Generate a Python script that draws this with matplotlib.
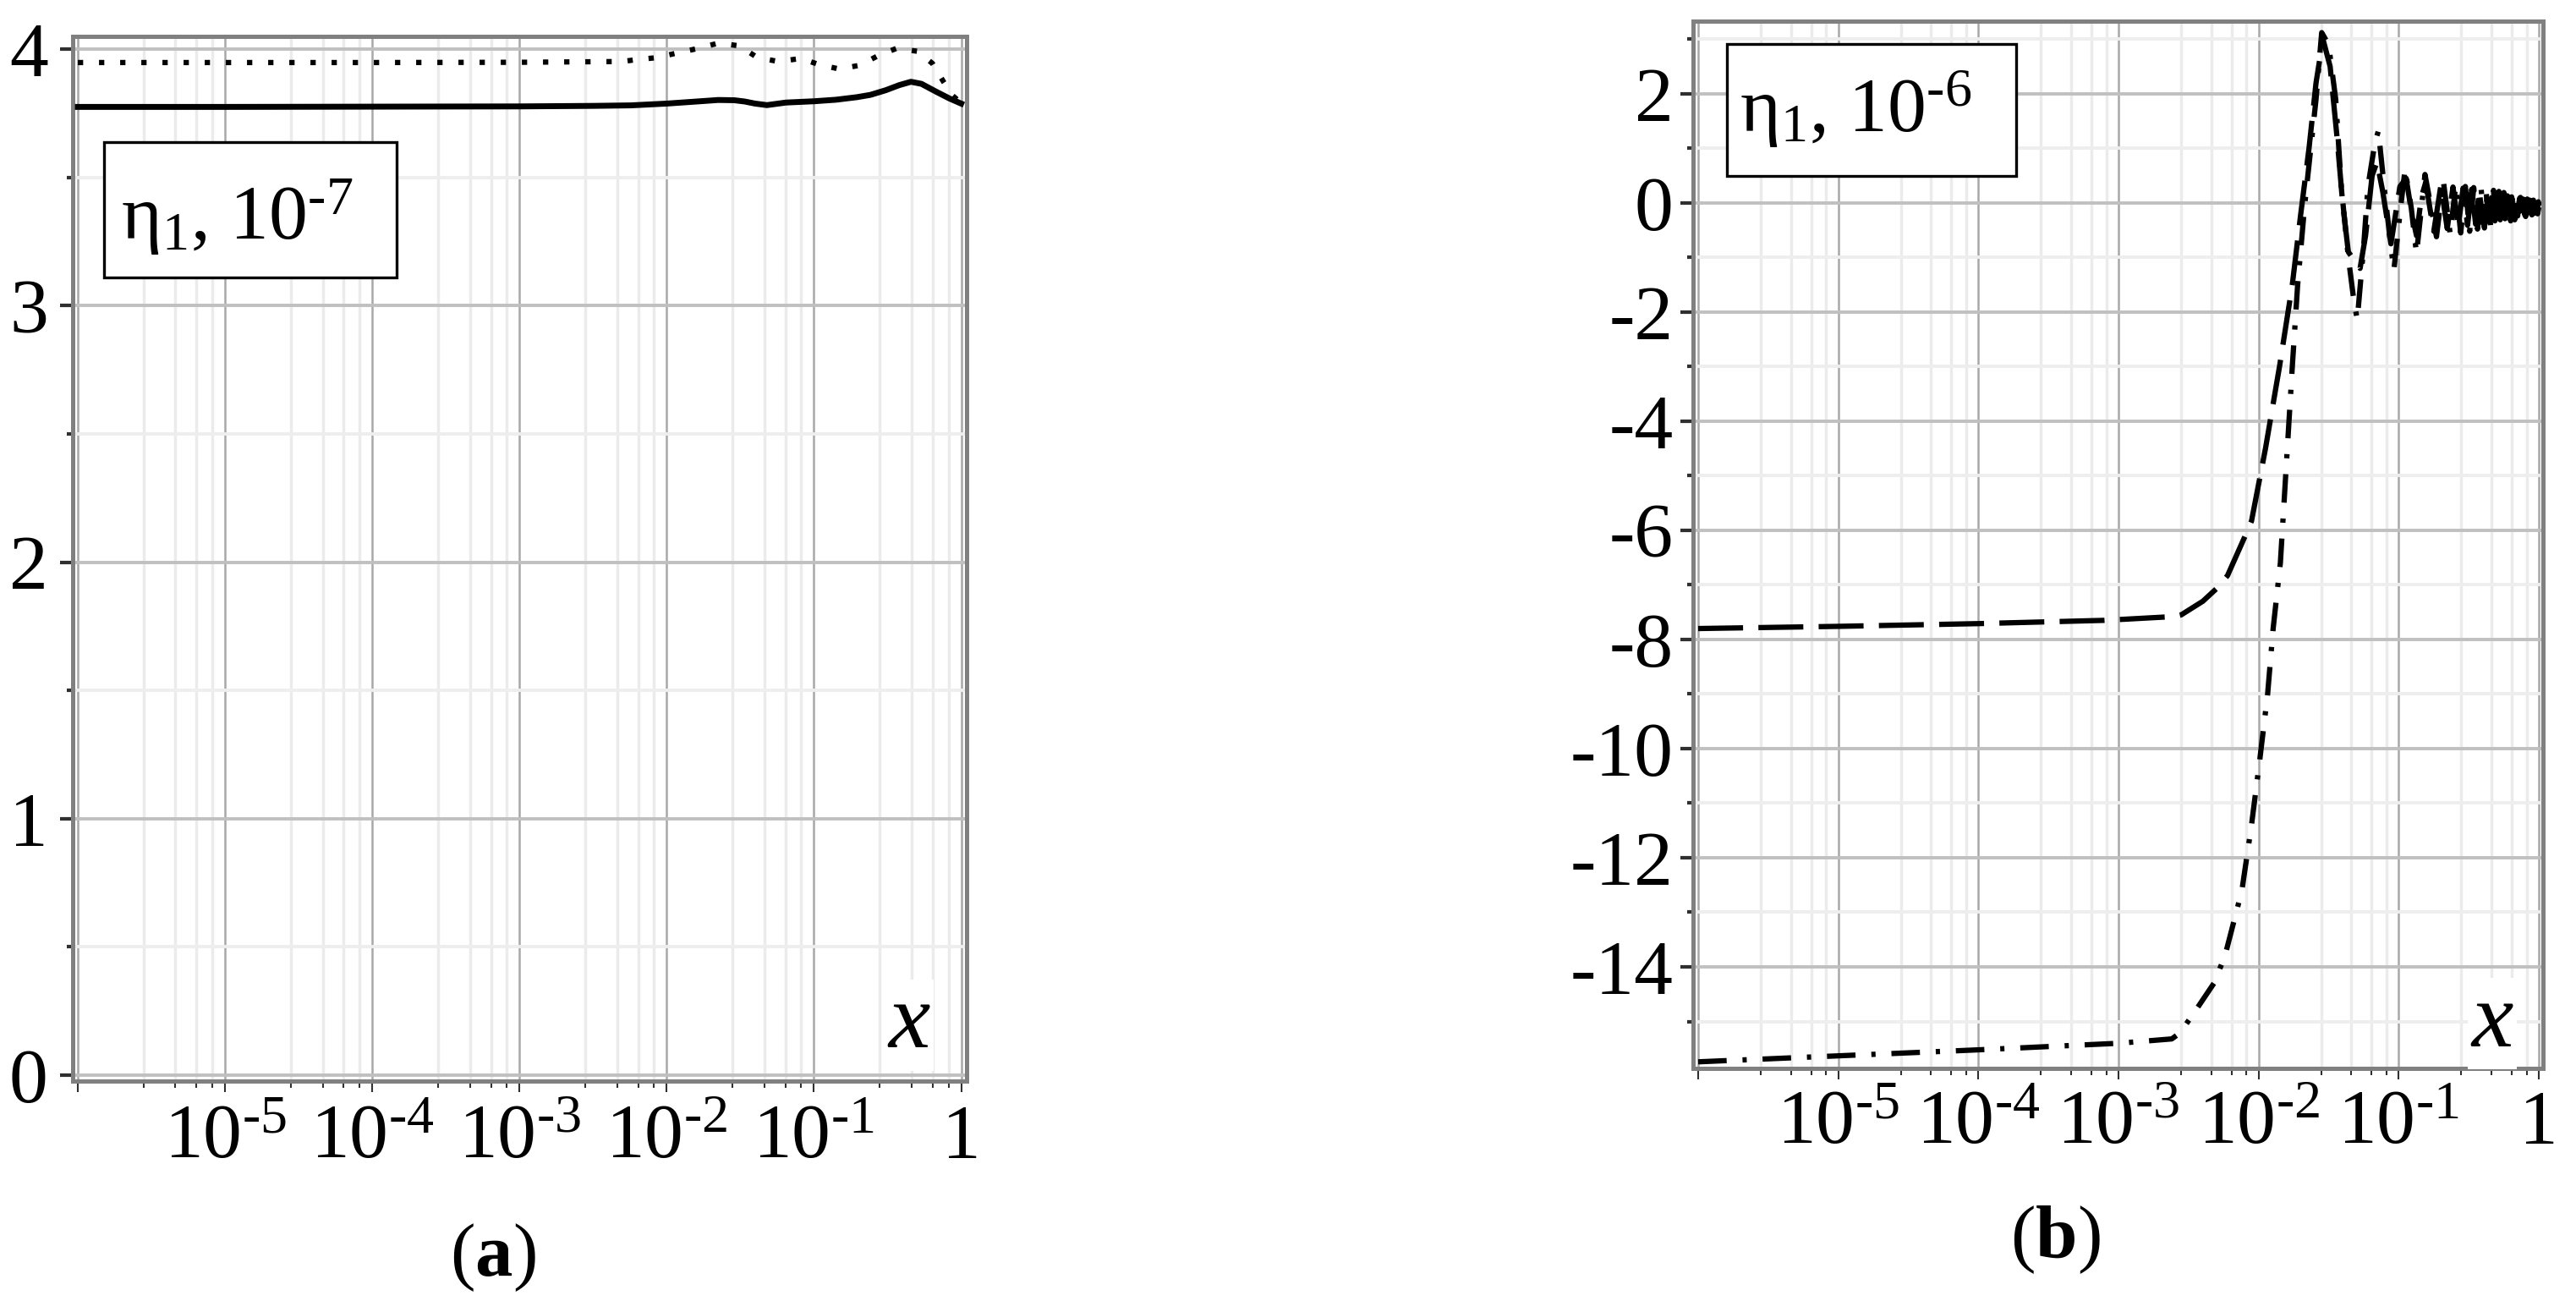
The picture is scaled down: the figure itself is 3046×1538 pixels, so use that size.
import matplotlib
matplotlib.use('Agg')
import matplotlib.pyplot as plt
from matplotlib.patches import Rectangle
from matplotlib.ticker import LogLocator, FixedLocator, NullFormatter

plt.rcParams['font.family'] = ['Liberation Serif', 'DejaVu Serif']
plt.rcParams['mathtext.fontset'] = 'custom'
plt.rcParams['mathtext.rm'] = 'Liberation Serif'
plt.rcParams['mathtext.it'] = 'Liberation Serif:italic'
plt.rcParams['mathtext.bf'] = 'Liberation Serif:bold'
plt.rcParams['axes.unicode_minus'] = False

# ---- panel (a): eta_1, 10^-7 ----
a_x_solid = [1e-6, 1e-5, 1e-4, 1e-3, 3.16e-3, 5.7e-3, 1e-2, 1.42e-2, 2.24e-2, 2.88e-2,
             3.39e-2, 3.98e-2, 4.79e-2, 6.46e-2, 0.1, 0.141, 0.196, 0.242, 0.307, 0.380,
             0.456, 0.537, 0.678, 0.832, 1.0]
a_y_solid = [3.775, 3.775, 3.776, 3.777, 3.779, 3.781, 3.788, 3.794, 3.802, 3.801,
             3.796, 3.788, 3.782, 3.792, 3.797, 3.803, 3.813, 3.822, 3.840, 3.860,
             3.873, 3.865, 3.834, 3.808, 3.788]

a_x_dot = [1e-6, 1e-4, 1e-3, 5.0e-3, 6.15e-3, 8.55e-3, 1.19e-2, 1.63e-2, 2.25e-2, 3.11e-2,
           4.14e-2, 5.75e-2, 8.17e-2, 0.1096, 0.1486, 0.204, 0.2735, 0.363, 0.5035, 0.637,
           0.759, 0.871, 1.0]
a_y_dot = [3.948, 3.948, 3.949, 3.952, 3.959, 3.967, 3.986, 4.003, 4.024, 4.013,
           3.967, 3.952, 3.964, 3.939, 3.923, 3.937, 3.975, 4.003, 3.992, 3.945,
           3.873, 3.820, 3.790]

# ---- panel (b): eta_1, 10^-6 ----
b_x_dash = [1e-6, 1e-5, 1e-4, 7.9e-4, 2.5e-3, 2.8e-3, 4.0e-3, 5.0e-3, 6.0e-3, 7.9e-3,
            8.9e-3, 1.12e-2, 1.41e-2, 1.74e-2, 2.0e-2, 2.29e-2, 2.57e-2, 2.88e-2, 3.24e-2, 3.63e-2,
            3.98e-2, 4.37e-2, 0.053, 0.058, 0.0646, 0.070, 0.077, 0.088, 0.102, 0.113,
            0.124, 0.134, 0.145, 0.156, 0.167, 0.178, 0.200, 0.222, 0.244, 0.266,
            0.288, 0.310, 0.332, 0.354, 0.376, 0.398, 0.420, 0.442, 0.464, 0.486,
            0.508, 0.530, 0.552, 0.574, 0.596, 0.618, 0.640, 0.662, 0.684, 0.706,
            0.728, 0.750, 0.772, 0.794, 0.816, 0.838, 0.860, 0.882, 0.904, 0.926,
            0.948, 0.970, 0.992, 1.0]
b_y_dash = [-7.80, -7.76, -7.71, -7.65, -7.58, -7.55, -7.30, -7.07, -6.83, -6.14,
            -5.83, -4.5, -3.0, -1.5, -0.2, 1.0, 2.2, 3.0, 2.5, 1.2,
            0.0, -0.9, -1.2, -0.6, 0.5, 0.75, 0.2, -0.75, 0.3, 0.45,
            -0.2, -0.6, 0.1, 0.38, -0.1, -0.52, 0.32, -0.47, 0.29, -0.44,
            0.27, -0.41, 0.25, -0.39, 0.23, -0.37, 0.21, -0.35, 0.19, -0.33,
            0.17, -0.31, 0.15, -0.29, 0.13, -0.27, 0.11, -0.26, 0.10, -0.24,
            0.08, -0.23, 0.07, -0.22, 0.06, -0.21, 0.05, -0.20, 0.04, -0.19,
            0.03, -0.18, 0.02, -0.05]

b_x_dd = [1e-6, 1e-5, 1e-4, 1e-3, 2.4e-3, 2.75e-3, 3.55e-3, 4.8e-3, 5.75e-3, 7.6e-3,
          8.9e-3, 1.02e-2, 1.16e-2, 1.27e-2, 1.43e-2, 1.74e-2, 1.9e-2, 2.14e-2, 2.29e-2, 2.57e-2,
          2.82e-2, 3.16e-2, 3.55e-2, 3.89e-2, 4.37e-2, 4.79e-2, 5.06e-2, 5.62e-2, 6.03e-2, 6.76e-2,
          7.16e-2, 7.94e-2, 8.71e-2, 9.23e-2, 0.102, 0.111, 0.123, 0.134, 0.154, 0.186,
          0.208, 0.233, 0.255, 0.277, 0.299, 0.321, 0.343, 0.365, 0.387, 0.409,
          0.431, 0.453, 0.475, 0.497, 0.519, 0.541, 0.563, 0.585, 0.607, 0.629,
          0.651, 0.673, 0.695, 0.717, 0.739, 0.761, 0.783, 0.805, 0.827, 0.849,
          0.871, 0.893, 0.915, 0.937, 0.959, 0.981, 1.0]
b_y_dd = [-15.74, -15.63, -15.52, -15.40, -15.32, -15.21, -14.8, -14.3, -13.8, -12.6,
          -11.4, -10.2, -9.0, -7.8, -6.6, -3.0, -1.5, 0.0, 0.7, 1.9,
          3.12, 2.9, 1.9, 0.3, -1.0, -1.8, -2.14, -0.8, 0.3, 1.1,
          1.32, 0.2, -0.7, -1.24, -0.2, 0.62, -0.1, -0.93, 0.52, -0.62,
          0.41, -0.57, 0.32, -0.55, 0.30, -0.52, 0.28, -0.48, 0.27, -0.46,
          0.25, -0.43, 0.23, -0.41, 0.21, -0.38, 0.19, -0.36, 0.16, -0.33,
          0.14, -0.31, 0.12, -0.29, 0.10, -0.27, 0.09, -0.25, 0.07, -0.23,
          0.06, -0.22, 0.05, -0.21, 0.04, -0.20, -0.08]

x_ticks = [1e-6, 1e-5, 1e-4, 1e-3, 1e-2, 1e-1, 1.0]
x_labels = ['', r'$\mathregular{10^{\text{-}5}}$', r'$\mathregular{10^{\text{-}4}}$',
            r'$\mathregular{10^{\text{-}3}}$', r'$\mathregular{10^{\text{-}2}}$',
            r'$\mathregular{10^{\text{-}1}}$', '1']
a_yticks = [0, 1, 2, 3, 4]
a_yminor = [0.5, 1.5, 2.5, 3.5]
b_yticks = [-14, -12, -10, -8, -6, -4, -2, 0, 2]
b_yminor = [-15, -13, -11, -9, -7, -5, -3, -1, 1, 3]
minor_subs = [2.8, 4.6, 6.4, 8.2]

FS = 66
LW = 4.5


def style_axes(ax, yticks, yminor, ypad, xpad):
    ax.set_xscale('log')
    ax.set_xticks(x_ticks)
    ax.set_xticklabels(x_labels)
    ax.xaxis.set_minor_locator(LogLocator(base=10, subs=minor_subs, numticks=30))
    ax.xaxis.set_minor_formatter(NullFormatter())
    ax.set_yticks(yticks)
    ax.set_yticklabels([str(v) for v in yticks])
    ax.yaxis.set_minor_locator(FixedLocator(yminor))
    ax.set_axisbelow(True)
    ax.xaxis.grid(True, which='major', color='#a8a8a8', lw=1.8)
    ax.xaxis.grid(True, which='minor', color='#ebebeb', lw=2.5)
    ax.yaxis.grid(True, which='major', color='#c0c0c0', lw=2.8)
    ax.yaxis.grid(True, which='minor', color='#eeeeee', lw=2.8)
    ax.tick_params(axis='x', which='major', direction='out', length=9.5, width=1.5,
                   color='#303030', labelsize=FS, pad=xpad)
    ax.tick_params(axis='x', which='minor', direction='out', length=6, width=1.5,
                   color='#303030')
    ax.tick_params(axis='y', which='major', direction='out', length=10.5, width=3,
                   color='#303030', labelsize=FS, pad=ypad)
    ax.tick_params(axis='y', which='minor', direction='out', length=5, width=3,
                   color='#303030')
    for s in ax.spines.values():
        s.set_color('#808080')
        s.set_linewidth(3.6)


fig = plt.figure(figsize=(30.46, 15.38), dpi=100)

# panel (a)
ax1 = fig.add_axes([0.02823, 0.16905, 0.34718, 0.80299])
ax1.plot(a_x_dot, a_y_dot, color='black', lw=LW, linestyle=(0, (1.0, 3.0)),
         dash_capstyle='butt', zorder=3)
ax1.plot(a_x_solid, a_y_solid, color='black', lw=5, zorder=4)
ax1.set_xlim(10 ** -6.035, 10 ** 0.04)
ax1.set_ylim(-0.023, 4.05)
style_axes(ax1, a_yticks, a_yminor, ypad=10.5, xpad=10)
ax1.add_patch(Rectangle((0.035, 0.769), 0.327, 0.130, transform=ax1.transAxes,
                        facecolor='white', edgecolor='black', lw=2.4, zorder=5))
ax1.text(0.054, 0.806, r'$\mathregular{η_1}$, $\mathregular{10^{\text{-}7}}$',
         transform=ax1.transAxes, fontsize=FS, ha='left', va='baseline', zorder=6)
ax1.text(0.935, 0.032, 'x', transform=ax1.transAxes, fontsize=80, fontstyle='italic',
         ha='center', va='baseline', zorder=4,
         bbox=dict(facecolor='white', edgecolor='none', pad=3))

# panel (b)
ax2 = fig.add_axes([0.65726, 0.17880, 0.32994, 0.80494])
ax2.plot(b_x_dash, b_y_dash, color='black', lw=LW, linestyle=(0, (8.5, 2.9)),
         dash_capstyle='butt', zorder=3)
ax2.plot(b_x_dd, b_y_dd, color='black', lw=LW, linestyle=(0, (5.4, 3.0, 0.8, 3.0)),
         dash_capstyle='butt', zorder=3)
ax2.set_xlim(10 ** -6.036, 10 ** 0.03)
ax2.set_ylim(-15.86, 3.33)
style_axes(ax2, b_yticks, b_yminor, ypad=6.5, xpad=9)
ax2.add_patch(Rectangle((0.0398, 0.852), 0.340, 0.126, transform=ax2.transAxes,
                        facecolor='white', edgecolor='black', lw=2.4, zorder=5))
ax2.text(0.0547, 0.894, r'$\mathregular{η_1}$, $\mathregular{10^{\text{-}6}}$',
         transform=ax2.transAxes, fontsize=FS, ha='left', va='baseline', zorder=6)
ax2.text(0.940, 0.021, 'x', transform=ax2.transAxes, fontsize=80, fontstyle='italic',
         ha='center', va='baseline', zorder=4,
         bbox=dict(facecolor='white', edgecolor='none', pad=3))

# captions
fig.text(0.1914, 0.0332, r'($\mathbf{a}$)', fontsize=64, ha='center', va='center')
fig.text(0.7978, 0.0468, r'($\mathbf{b}$)', fontsize=64, ha='center', va='center')

fig.savefig('out.png', dpi=100)
